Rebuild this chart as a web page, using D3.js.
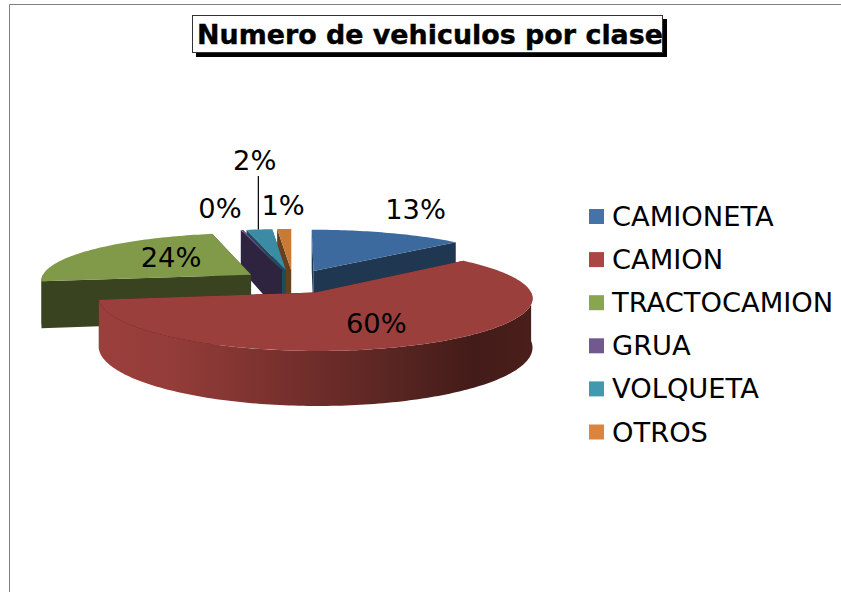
<!DOCTYPE html>
<html><head><meta charset="utf-8">
<script src="https://cdn.jsdelivr.net/npm/d3@7/dist/d3.min.js"></script>
<style>html,body{margin:0;padding:0;background:#fff;overflow:hidden}svg{display:block}text{font-family:"DejaVu Sans",Verdana,sans-serif;fill:#000}</style>
</head><body><svg id="c" width="841" height="592"></svg>
<script>
const categories = ["CAMIONETA","CAMION","TRACTOCAMION","GRUA","VOLQUETA","OTROS"];
const values = [133,596,236,2,22,12];
const topColors = ["#3d6a9e","#9b3f3c","#819a49","#6b4f8c","#3a8ba3","#c87a37"];
const legendColors = ["#4572a7","#aa4643","#89a54e","#71588f","#4198af","#db843d"];
const wallColors = ["#1f3751","#4a1e1a","#3a4320","#2e2440","#1d4d5a","#6a3f1c"];
// label offsets from each slice's tip, in px
const labelOffsets = [[102,-61],[61,31],[-80,-17],[-62,-62],[-31,-110],[-8,-64]];
const drawOrder = [0,5,4,3,2,1];

const cx=293, cy=281.5, R=211, K=48.5, explode=0.245, depth=47;
const svg=d3.select("#c");
const pie=d3.pie().sort(null).value(d=>d)(values);
const color=d3.scaleOrdinal(d3.range(6),topColors);
const wall=d3.scaleOrdinal(d3.range(6),wallColors);
const line=d3.line();

function project(X,Y,z){
  return [cx+X*R/(1-.1*Y), cy+Y*K/(1-.12*Y)+z*depth*(1+.14*Y)];
}
function pt(p,a,r,z){
  const m=(p.startAngle+p.endAngle)/2;
  return project(explode*Math.sin(m)+r*Math.sin(a), -explode*Math.cos(m)-r*Math.cos(a), z);
}
function samples(a0,a1){
  const n=Math.max(2,Math.ceil((a1-a0)/0.02));
  return d3.range(n+1).map(i=>a0+(a1-a0)*i/n);
}

const defs=svg.append("defs");
const grad=defs.append("linearGradient").attr("id","camWall").attr("gradientUnits","userSpaceOnUse")
  .attr("x1",100).attr("x2",535).attr("y1",0).attr("y2",0);
[[0,"#9b3f3c"],[.17,"#933c39"],[.45,"#742f2c"],[.72,"#532320"],[.86,"#431b18"],[1,"#4b1f1b"]]
  .forEach(s=>grad.append("stop").attr("offset",s[0]).attr("stop-color",s[1]));

// frame
svg.append("path").attr("d","M841 4.5H9.5V592").attr("fill","none").attr("stroke","#7f7f7f");

const g=svg.append("g");
drawOrder.forEach(i=>{
  const p=pie[i];
  // radial walls
  [p.startAngle,p.endAngle].forEach(a=>{
    g.append("path").attr("fill",wall(i)).attr("d",line([pt(p,a,0,0),pt(p,a,1,0),pt(p,a,1,1),pt(p,a,0,1)])+"Z");
  });
  // outer wall
  const a0=Math.max(p.startAngle,Math.PI/2), a1=Math.min(p.endAngle,1.5*Math.PI);
  if(a1>a0){
    const as=samples(a0,a1);
    const poly=as.map(a=>pt(p,a,1,0)).concat(as.slice().reverse().map(a=>pt(p,a,1,1)));
    g.append("path").attr("fill",i===1?"url(#camWall)":wall(i)).attr("d",line(poly)+"Z");
  }
  // top face
  const poly=[pt(p,0,0,0)].concat(samples(p.startAngle,p.endAngle).map(a=>pt(p,a,1,0)));
  g.append("path").attr("fill",color(i)).attr("d",line(poly)+"Z");
});

// leader line for the VOLQUETA label
{
  const p=pie[4], m=(p.startAngle+p.endAngle)/2, rim=pt(p,m,1,0);
  const tip=pt(p,0,0,0);
  svg.append("line").attr("x1",rim[0]-1).attr("x2",rim[0]-1).attr("y1",rim[1])
    .attr("y2",tip[1]+labelOffsets[4][1]+16).attr("stroke","#000").attr("stroke-width",1.2);
}
// data labels
pie.forEach((p,i)=>{
  const tip=pt(p,0,0,0);
  svg.append("text").attr("x",tip[0]+labelOffsets[i][0]).attr("y",tip[1]+labelOffsets[i][1])
    .attr("text-anchor","middle").attr("dominant-baseline","central").attr("font-size",27.3)
    .text(Math.round(p.value/d3.sum(values)*100)+"%");
});
// legend
const leg=d3.scalePoint().domain(categories).range([216.5,432]);
categories.forEach((c,i)=>{
  svg.append("rect").attr("x",589).attr("y",leg(c)-7.5).attr("width",15).attr("height",15).attr("fill",legendColors[i]);
  svg.append("text").attr("x",612).attr("y",leg(c)).attr("dominant-baseline","central").attr("font-size",27.3).text(c);
});
// title
svg.append("rect").attr("x",196).attr("y",19).attr("width",471).attr("height",38).attr("fill","#000");
svg.append("rect").attr("x",192.5).attr("y",15.5).attr("width",470).attr("height",37).attr("fill","#fff").attr("stroke","#333");
svg.append("text").attr("x",430).attr("y",34).attr("text-anchor","middle").attr("dominant-baseline","central")
  .attr("font-size",26.9).attr("font-weight","bold").attr("stroke","#000").attr("stroke-width",0.4).text("Numero de vehiculos por clase");
</script></body></html>
